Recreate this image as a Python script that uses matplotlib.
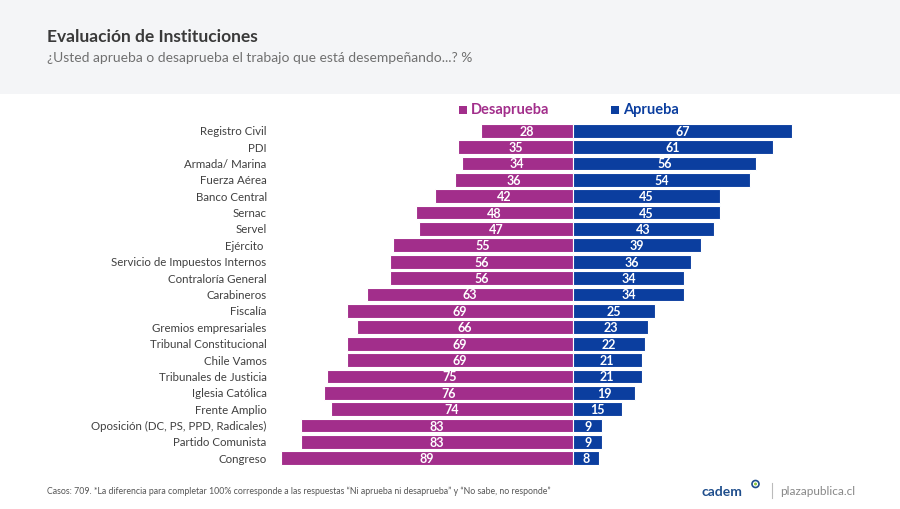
import matplotlib
matplotlib.use("Agg")
import matplotlib.pyplot as plt
from matplotlib.patches import Rectangle, Ellipse

categories = ["Registro Civil", "PDI", "Armada/ Marina", "Fuerza Aérea", "Banco Central",
              "Sernac", "Servel", "Ejército ", "Servicio de Impuestos Internos",
              "Contraloría General", "Carabineros", "Fiscalía", "Gremios empresariales",
              "Tribunal Constitucional", "Chile Vamos", "Tribunales de Justicia",
              "Iglesia Católica", "Frente Amplio", "Oposición (DC, PS, PPD, Radicales)",
              "Partido Comunista", "Congreso"]
desaprueba = [28, 35, 34, 36, 42, 48, 47, 55, 56, 56, 63, 69, 66, 69, 69, 75, 76, 74, 83, 83, 89]
aprueba = [67, 61, 56, 54, 45, 45, 43, 39, 36, 34, 34, 25, 23, 22, 21, 21, 19, 15, 9, 9, 8]

MAG = "#A22E8B"
BLUE = "#0B3E9F"
FONT = ["Lato", "DejaVu Sans"]
W, H = 900, 510

fig = plt.figure(figsize=(9, 5.1), dpi=100)
fig.patch.set_facecolor("white")

# header band
fig.add_artist(Rectangle((0, 1 - 95 / H), 1, 95 / H, transform=fig.transFigure,
                         facecolor="#F4F5F7", edgecolor="none", zorder=0))

fig.text(47 / W, 1 - 37 / H, "Evaluación de Instituciones", fontsize=12.5, fontweight="bold",
         color="#3A3A3A", family=FONT, va="center", ha="left")
fig.text(47 / W, 1 - 58 / H, "¿Usted aprueba o desaprueba el trabajo que está desempeñando...? %",
         fontsize=10, color="#707070", family=FONT, va="center", ha="left")

# axes: left 270px, right 810px, top 123px, bottom 467px
ax = fig.add_axes([270 / W, 1 - 467.5 / H, 540 / W, 344 / H])
ax.set_xlim(-92.5, 72.4)
n = len(categories)
ax.set_ylim(n - 0.5, -0.5)
ax.axis("off")

ys = list(range(n))
ax.barh(ys, [-d for d in desaprueba], height=0.84, color=MAG, edgecolor="white", linewidth=0.8)
ax.barh(ys, aprueba, height=0.84, color=BLUE, edgecolor="white", linewidth=0.8)

for y, d, a, c in zip(ys, desaprueba, aprueba, categories):
    ax.text(-d / 2, y, str(d), color="white", fontsize=9, fontweight="bold",
            ha="center", va="center", family=FONT)
    ax.text(a / 2, y, str(a), color="white", fontsize=9, fontweight="bold",
            ha="center", va="center", family=FONT)
    ax.text(-93.5, y, c, color="#404040", fontsize=8.3, ha="right", va="center", family=FONT)

# legend
for x0, col in [(459, MAG), (611, BLUE)]:
    fig.add_artist(Rectangle((x0 / W, 1 - 114.5 / H), 8 / W, 8 / H, transform=fig.transFigure,
                             facecolor=col, edgecolor="none"))
fig.text(471 / W, 1 - 110 / H, "Desaprueba", color=MAG, fontsize=10.5, fontweight="bold",
         va="center", ha="left", family=FONT)
fig.text(623 / W, 1 - 110 / H, "Aprueba", color=BLUE, fontsize=10.5, fontweight="bold",
         va="center", ha="left", family=FONT)

# footer
fig.text(47 / W, 1 - 491 / H,
         "Casos: 709. *La diferencia para completar 100% corresponde a las respuestas "
         "“Ni aprueba ni desaprueba” y “No sabe, no responde”",
         fontsize=6.3, color="#555555", va="center", ha="left", family=FONT)
fig.text(701 / W, 1 - 492 / H, "cadem", fontsize=10, fontweight="bold", color="#1F4E8C",
         va="center", ha="left", family=FONT)
fig.add_artist(Ellipse((755.5 / W, 1 - 485 / H), 7 / W, 7 / H, transform=fig.transFigure,
                       facecolor="white", edgecolor="#1F4E8C", linewidth=1.2))
fig.add_artist(Ellipse((755.5 / W, 1 - 485 / H), 3 / W, 3 / H, transform=fig.transFigure,
                       facecolor="#8DC63F", edgecolor="none"))
fig.add_artist(plt.Line2D([772 / W, 772 / W], [1 - 484 / H, 1 - 499 / H],
                          transform=fig.transFigure, color="#BBBBBB", linewidth=0.8))
fig.text(780 / W, 1 - 492 / H, "plazapublica.cl", fontsize=8.5, color="#888888",
         va="center", ha="left", family=FONT)

fig.savefig("out.png", dpi=100, facecolor="white")
